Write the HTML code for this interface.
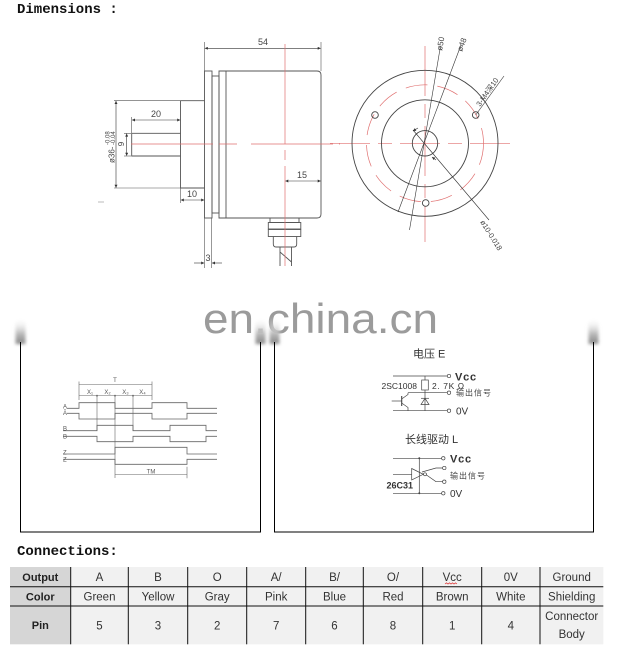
<!DOCTYPE html>
<html><head><meta charset="utf-8"><style>
html,body{margin:0;padding:0;background:#fff;}
svg{display:block;}
.m{font-family:"Liberation Mono",monospace;font-weight:bold;font-size:14px;fill:#111;}
.d{font-family:"Liberation Sans",sans-serif;font-size:9px;fill:#444;}
.s{font-family:"Liberation Sans","Noto Sans CJK SC",sans-serif;}
.t{font-family:"Liberation Sans",sans-serif;font-size:11.5px;fill:#333;text-anchor:middle;}
.th{font-family:"Liberation Sans",sans-serif;font-size:11px;font-weight:bold;fill:#222;text-anchor:middle;}
</style></head><body>
<svg width="640" height="669" viewBox="0 0 640 669" xmlns="http://www.w3.org/2000/svg">
<defs>
<marker id="ar" viewBox="0 0 10 10" refX="10" refY="5" markerWidth="6" markerHeight="3" markerUnits="userSpaceOnUse" orient="auto-start-reverse"><path d="M0,0 L10,5 L0,10 Z" fill="#333"/></marker>
<linearGradient id="fd" x1="0" y1="0" x2="0" y2="1"><stop offset="0" stop-color="#fff" stop-opacity="0"/><stop offset="0.6" stop-color="#bbb"/><stop offset="1" stop-color="#888"/></linearGradient>
<filter id="bl" x="-1" y="-1" width="3" height="3"><feGaussianBlur stdDeviation="1.5"/></filter>
</defs>

<text x="17" y="13" class="m">Dimensions :</text>

<!-- SIDE VIEW -->
<g fill="none" stroke="#555" stroke-width="0.9">
  <rect x="204.5" y="71" width="7.5" height="147"/>
  <rect x="212" y="76" width="7" height="137"/>
  <path d="M219,71 H317 Q321,71 321,75 V214 Q321,218 317,218 H219 Z"/>
  <line x1="226" y1="71" x2="226" y2="218"/>
  <path d="M204.5,100.7 H180.5 V188 H204.5"/>
  <path d="M180.5,133.3 H131.7 V156 H180.5"/>
  <line x1="114" y1="100.7" x2="180" y2="100.7" stroke-width="0.6"/>
  <line x1="114" y1="188" x2="180" y2="188" stroke-width="0.6"/>
  <line x1="131.7" y1="117" x2="131.7" y2="133" stroke-width="0.6"/>
  <line x1="124" y1="133.3" x2="131" y2="133.3" stroke-width="0.6"/>
  <line x1="124" y1="156" x2="131" y2="156" stroke-width="0.6"/>
  <line x1="180.5" y1="188" x2="180.5" y2="203" stroke-width="0.6"/>
  <line x1="204.5" y1="42" x2="204.5" y2="71" stroke-width="0.6"/>
  <line x1="321" y1="42" x2="321" y2="71" stroke-width="0.6"/>
  <line x1="204.5" y1="218" x2="204.5" y2="268" stroke-width="0.6"/>
  <line x1="211.7" y1="218" x2="211.7" y2="268" stroke-width="0.6"/>
  <rect x="270" y="218" width="29" height="4.5"/>
  <rect x="268.3" y="222.5" width="32.5" height="6.5"/>
  <rect x="268.3" y="229.5" width="32.5" height="7"/>
  <path d="M273.3,236.5 V244 Q273.3,247 276,247 H294 Q296.7,247 296.7,244 V236.5"/>
  <path d="M280,247 V266 M291.5,247 V266 M280,252 L291.5,262"/>
</g>
<g fill="none" stroke="#333" stroke-width="0.6">
  <line x1="116" y1="101" x2="116" y2="187.7" marker-start="url(#ar)" marker-end="url(#ar)"/>
  <line x1="126.7" y1="133.6" x2="126.7" y2="155.7" marker-start="url(#ar)" marker-end="url(#ar)"/>
  <line x1="132" y1="120" x2="180.2" y2="120" marker-start="url(#ar)" marker-end="url(#ar)"/>
  <line x1="180.8" y1="200" x2="204.2" y2="200" marker-start="url(#ar)" marker-end="url(#ar)"/>
  <line x1="204.8" y1="48.3" x2="320.7" y2="48.3" marker-start="url(#ar)" marker-end="url(#ar)"/>
  <line x1="285.3" y1="181" x2="320.7" y2="181" marker-start="url(#ar)" marker-end="url(#ar)"/>
  <line x1="194" y1="263" x2="204.2" y2="263" marker-end="url(#ar)"/>
  <line x1="222" y1="263" x2="212" y2="263" marker-end="url(#ar)"/>
</g>
<g stroke="#e07070" stroke-width="0.7" fill="none">
  <line x1="131" y1="144" x2="340" y2="144" stroke-dasharray="82 6 18 14"/>
  <line x1="285" y1="44" x2="285" y2="268" stroke-dasharray="100 6 10 6"/>
</g>
<text x="156" y="117" class="d" text-anchor="middle">20</text>
<text x="263" y="45" class="d" text-anchor="middle">54</text>
<text x="302" y="178" class="d" text-anchor="middle">15</text>
<text x="192" y="197" class="d" text-anchor="middle">10</text>
<text x="208" y="261" class="d" text-anchor="middle">3</text>
<text transform="translate(124,144) rotate(-90)" class="d" text-anchor="middle" style="font-size:8px">9</text>
<text transform="translate(114.5,163) rotate(-90)" class="d" style="font-size:8px">ø36-</text>
<text transform="translate(109.5,145) rotate(-90)" class="d" style="font-size:6px">-0.08</text>
<text transform="translate(115,145) rotate(-90)" class="d" style="font-size:6px">-0.04</text>
<line x1="98" y1="202" x2="104" y2="202" stroke="#aaa" stroke-width="0.8"/>

<!-- FRONT VIEW -->
<g stroke="#e07070" stroke-width="0.7" fill="none">
  <line x1="330" y1="143.3" x2="510" y2="143.3" stroke-dasharray="40 8 14 8"/>
  <line x1="425" y1="46" x2="425" y2="242" stroke-dasharray="50 8 14 8"/>
  <circle cx="425" cy="143.3" r="58.5" stroke-dasharray="22 10"/>
</g>
<g fill="none" stroke="#444" stroke-width="0.9">
  <circle cx="425" cy="143.3" r="73"/>
  <circle cx="425" cy="143.3" r="43.5"/>
  <circle cx="425" cy="143.3" r="12.7"/>
  <circle cx="375" cy="115" r="3.3"/>
  <circle cx="475.7" cy="115" r="3.3"/>
  <circle cx="425.7" cy="203" r="3.3"/>
</g>
<g stroke="#333" stroke-width="0.6" fill="none">
  <line x1="440.5" y1="46" x2="409.5" y2="230"/>
  <line x1="461" y1="45" x2="398" y2="212"/>
  <line x1="413" y1="130" x2="489" y2="220"/>
  <line x1="475.7" y1="115" x2="504" y2="76"/>
  <line x1="418" y1="128" x2="413" y2="131" marker-end="url(#ar)"/>
  <line x1="432" y1="157" x2="436" y2="160" marker-start="url(#ar)"/>
</g>
<text transform="translate(442,51) rotate(-80)" class="d" style="font-size:8px">ø50</text>
<text transform="translate(462,52) rotate(-70)" class="d" style="font-size:8px">ø48</text>
<text transform="translate(480,107) rotate(-55)" class="d s" style="font-size:7.5px">3-M4深10</text>
<text transform="translate(480,222) rotate(58)" class="d" style="font-size:7.5px">ø10-0.018</text>

<!-- WATERMARK -->
<text x="203" y="333" class="s" font-size="42" fill="#9b9b9b" textLength="235" lengthAdjust="spacingAndGlyphs">en.china.cn</text>

<!-- fades -->
<g filter="url(#bl)">
  <rect x="15.5" y="318" width="10" height="26" fill="url(#fd)"/>
  <rect x="255.5" y="318" width="10" height="26" fill="url(#fd)"/>
  <rect x="269.5" y="318" width="10" height="26" fill="url(#fd)"/>
  <rect x="588.5" y="318" width="10" height="26" fill="url(#fd)"/>
</g>
<!-- BOXES -->
<g stroke="#000" stroke-width="1" fill="none">
  <path d="M20.5,342 V532 H260.5 V342"/>
  <path d="M274.5,342 V532 H593.5 V342"/>
</g>

<!-- TIMING -->
<g stroke="#666" stroke-width="0.8" fill="none">
  <path d="M67,408.3 H79 V402.7 H115 V408.3 H152 V402.7 H187 V408.3 H217"/>
  <path d="M67,413.3 H79 V419 H115 V413.3 H152 V419 H187 V413.3 H217"/>
  <path d="M63,430.7 H97 V425.3 H133 V430.7 H170 V425.3 H206 V430.7 H217"/>
  <path d="M63,436.3 H97 V441.7 H133 V436.3 H170 V441.7 H206 V436.3 H217"/>
  <path d="M63,454 H115 V447.3 H187 V454 H217"/>
  <path d="M63,459.3 H115 V464.3 H187 V459.3 H217"/>
  <line x1="97" y1="395.7" x2="97" y2="430.7" stroke-width="0.6"/>
  <line x1="115" y1="395.7" x2="115" y2="478" stroke-width="0.6"/>
  <line x1="133" y1="395.7" x2="133" y2="430.7" stroke-width="0.6"/>
  <line x1="79" y1="381.5" x2="79" y2="400" stroke-width="0.6"/>
  <line x1="152" y1="381.5" x2="152" y2="400" stroke-width="0.6"/>
  <line x1="187" y1="466.7" x2="187" y2="478.3" stroke-width="0.6"/>
  <line x1="79" y1="384.3" x2="152" y2="384.3" stroke-width="0.5"/>
  <line x1="79" y1="395.7" x2="152" y2="395.7" stroke-width="0.5"/>
  <line x1="115" y1="474.7" x2="187" y2="474.7" stroke-width="0.5"/>
</g>
<g fill="#666">
  <circle cx="97" cy="395.7" r="0.9"/><circle cx="115" cy="395.7" r="0.9"/><circle cx="133" cy="395.7" r="0.9"/>
</g>
<g class="d" style="font-size:6px;fill:#555">
  <text x="115" y="382" text-anchor="middle">T</text>
  <text x="90" y="394" text-anchor="middle">X₁</text>
  <text x="107.5" y="394" text-anchor="middle">X₂</text>
  <text x="125.5" y="394" text-anchor="middle">X₃</text>
  <text x="142.5" y="394" text-anchor="middle">X₄</text>
  <text x="151" y="473.5" text-anchor="middle">TM</text>
  <text x="63" y="408.5">A</text>
  <text x="63" y="415">Ā</text>
  <text x="63" y="430.5">B</text>
  <text x="63" y="438.5">B</text>
  <text x="63" y="454.5">Z</text>
  <text x="63" y="461.5">Z</text>
</g>

<!-- CIRCUIT E -->
<text x="413" y="357.5" class="s" font-size="11" fill="#333">电压  E</text>
<g stroke="#444" stroke-width="0.7" fill="none">
  <line x1="393" y1="376" x2="447.3" y2="376"/>
  <circle cx="449" cy="376" r="1.7"/>
  <line x1="425" y1="376" x2="425" y2="380"/>
  <rect x="421.7" y="380" width="6.6" height="10"/>
  <line x1="425" y1="390" x2="425" y2="410.7"/>
  <line x1="408" y1="392.7" x2="447.3" y2="392.7"/>
  <circle cx="449" cy="392.7" r="1.7"/>
  <line x1="393" y1="410.7" x2="447.3" y2="410.7"/>
  <circle cx="449" cy="410.7" r="1.7"/>
  <line x1="391.7" y1="401" x2="401.7" y2="401"/>
  <line x1="401.7" y1="396" x2="401.7" y2="406" stroke-width="1.1"/>
  <path d="M401.7,399 L408,394.5 V392.7"/>
  <path d="M401.7,403 L408,407.5 V410.7"/>
  <line x1="421" y1="398.3" x2="429" y2="398.3"/>
  <path d="M425,398.3 L421,404.5 H429 Z"/>
</g>
<text x="381.5" y="389" class="s" font-size="8.5" fill="#333">2SC1008</text>
<text x="432" y="389" class="s" font-size="8.5" fill="#333" letter-spacing="0.6">2. 7K Ω</text>
<text x="455" y="380.5" class="s" font-size="11" font-weight="bold" fill="#333" letter-spacing="0.8">Vcc</text>
<text x="456" y="395.5" class="s" font-size="8" fill="#444" letter-spacing="1">输出信号</text>
<text x="456" y="414.5" class="s" font-size="10" fill="#333">0V</text>

<!-- CIRCUIT L -->
<text x="405" y="443" class="s" font-size="11" fill="#333">长线驱动  L</text>
<g stroke="#444" stroke-width="0.7" fill="none">
  <line x1="393" y1="458.3" x2="441.6" y2="458.3"/>
  <circle cx="443.3" cy="458.3" r="1.7"/>
  <line x1="419.3" y1="458.3" x2="419.3" y2="493.3"/>
  <line x1="393" y1="474.3" x2="411.7" y2="474.3"/>
  <path d="M411.7,468.5 V480 L423.3,474.3 Z"/>
  <circle cx="425" cy="474.3" r="1.5"/>
  <path d="M422,472 L436,468 H442.6"/>
  <circle cx="444.3" cy="468" r="1.7"/>
  <path d="M426.5,475 L436,481.7 H442.6"/>
  <circle cx="444.3" cy="481.7" r="1.7"/>
  <line x1="393" y1="493.3" x2="441.6" y2="493.3"/>
  <circle cx="443.3" cy="493.3" r="1.7"/>
</g>
<circle cx="419.3" cy="458.3" r="1" fill="#444"/>
<circle cx="419.3" cy="493.3" r="1" fill="#444"/>
<text x="450" y="462.5" class="s" font-size="11" font-weight="bold" fill="#333" letter-spacing="0.8">Vcc</text>
<text x="450" y="478.5" class="s" font-size="8" fill="#444" letter-spacing="1">输出信号</text>
<text x="386.5" y="488.5" class="s" font-size="9" font-weight="bold" fill="#333">26C31</text>
<text x="450" y="497" class="s" font-size="10" fill="#333">0V</text>

<!-- CONNECTIONS -->
<text x="17" y="555" class="m">Connections:</text>
<rect x="10" y="567" width="60.7" height="77.3" fill="#d6d6d6"/>
<rect x="70.7" y="567" width="532.6" height="77.3" fill="#f1f1f1"/>
<g stroke="#111" stroke-width="1">
  <line x1="10" y1="586.7" x2="603.3" y2="586.7"/>
  <line x1="10" y1="606" x2="603.3" y2="606"/>
  <line x1="70.7" y1="567" x2="70.7" y2="644.3"/>
  <line x1="128.3" y1="567" x2="128.3" y2="644.3"/>
  <line x1="187.7" y1="567" x2="187.7" y2="644.3"/>
  <line x1="246.7" y1="567" x2="246.7" y2="644.3"/>
  <line x1="305.7" y1="567" x2="305.7" y2="644.3"/>
  <line x1="363.3" y1="567" x2="363.3" y2="644.3"/>
  <line x1="422.7" y1="567" x2="422.7" y2="644.3"/>
  <line x1="481.7" y1="567" x2="481.7" y2="644.3"/>
  <line x1="540" y1="567" x2="540" y2="644.3"/>
</g>
<text x="40.3" y="581" class="th">Output</text>
<text x="40.3" y="600.5" class="th">Color</text>
<text x="40.3" y="629" class="th">Pin</text>
<g class="t">
  <text x="99.5" y="581">A</text><text x="158" y="581">B</text><text x="217.2" y="581">O</text><text x="276.2" y="581">A/</text><text x="334.5" y="581">B/</text><text x="393" y="581">O/</text><text x="452.2" y="581">Vcc</text><text x="510.8" y="581">0V</text><text x="571.7" y="581">Ground</text>
  <text x="99.5" y="600.5">Green</text><text x="158" y="600.5">Yellow</text><text x="217.2" y="600.5">Gray</text><text x="276.2" y="600.5">Pink</text><text x="334.5" y="600.5">Blue</text><text x="393" y="600.5">Red</text><text x="452.2" y="600.5">Brown</text><text x="510.8" y="600.5">White</text><text x="571.7" y="600.5">Shielding</text>
  <text x="99.5" y="629.5">5</text><text x="158" y="629.5">3</text><text x="217.2" y="629.5">2</text><text x="276.2" y="629.5">7</text><text x="334.5" y="629.5">6</text><text x="393" y="629.5">8</text><text x="452.2" y="629.5">1</text><text x="510.8" y="629.5">4</text>
  <text x="571.7" y="620">Connector</text><text x="571.7" y="638">Body</text>
</g>
<path d="M445,584 l1.5,-1.2 l1.5,1.2 l1.5,-1.2 l1.5,1.2 l1.5,-1.2 l1.5,1.2 l1.5,-1.2 l1.5,1.2" fill="none" stroke="#d33" stroke-width="0.7"/>
</svg>
</body></html>
